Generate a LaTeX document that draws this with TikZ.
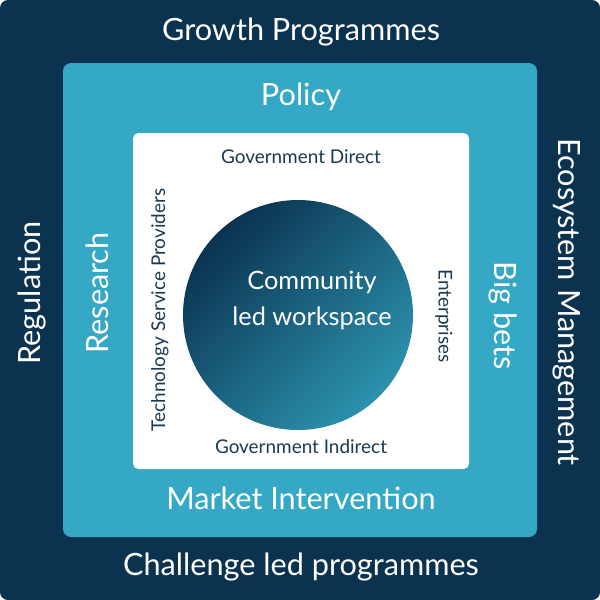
\documentclass[tikz,border=0pt]{standalone}
\usepackage{fontspec}
\setmainfont{Lato}
\usetikzlibrary{shadings}
\definecolor{navy}{HTML}{0B3350}
\definecolor{teal}{HTML}{35A8C5}
\definecolor{ink}{HTML}{1B3A50}
\definecolor{circdark}{HTML}{0A3350}
\definecolor{circlight}{HTML}{2C92AE}
\tikzset{every picture/.style={line width=0.75pt},
  outertext/.style={text=white,font=\fontsize{23}{27}\selectfont},
  midtext/.style={text=white,font=\fontsize{23}{27}\selectfont},
  innertext/.style={text=ink,font=\fontsize{14.2}{16}\selectfont}}
\begin{document}
\begin{tikzpicture}[x=0.75pt,y=0.75pt,yscale=-1,xscale=1]
	\useasboundingbox (0,0) rectangle (600,600);

	%Outer frame
	\fill [navy, rounded corners=6] (0,0) rectangle (600,600);
	%Middle frame
	\fill [teal, rounded corners=6] (63,63) rectangle (537,537);
	%Inner frame
	\fill [white, rounded corners=4] (133,133) rectangle (469,469);
	%Circle
	\shade [top color=circdark, bottom color=circlight, shading angle=45] (298,315) circle (115);

	% Outer labels
	\node [outertext] (growth) at (301,32) {Growth Programmes};
	\node [outertext] (challenge) at (301,567) {Challenge led programmes};
	\node [outertext, rotate=90] (regulation) at (32,293) {Regulation};
	\node [outertext, rotate=-90] (ecosystem) at (567,302) {Ecosystem Management};

	% Middle labels
	\node [midtext] (policy) at (301,97) {Policy};
	\node [midtext] (market) at (301,498) {Market Intervention};
	\node [midtext, rotate=90] (research) at (97,293) {Research};
	\node [midtext, rotate=-90] (bigbets) at (503,316) {Big bets};

	% Inner labels
	\node [innertext] (govdirect) at (301,157) {Government Direct};
	\node [innertext] (govindirect) at (301,447) {Government Indirect};
	\node [innertext, rotate=90] (tsp) at (160,310) {Technology Service Providers};
	\node [innertext, rotate=-90] (enterprises) at (444,316) {Enterprises};

	% Centre
	\node [text=white, align=center, font=\fontsize{19}{27}\selectfont] (community) at (312,300) {Community\\led workspace};

\end{tikzpicture}
\end{document}
